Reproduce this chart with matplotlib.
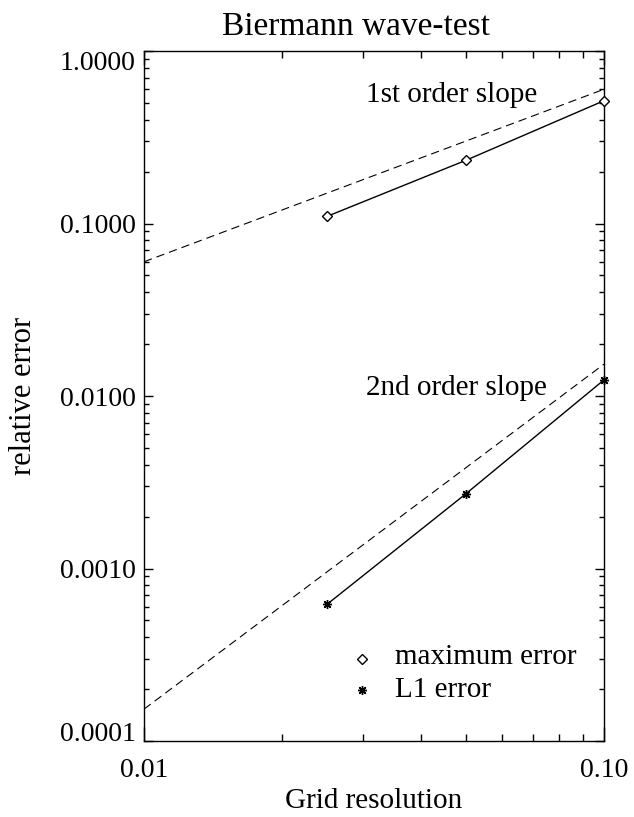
import matplotlib
matplotlib.use("Agg")
import matplotlib.pyplot as plt
from matplotlib.ticker import FixedLocator, LogLocator, NullFormatter, FixedFormatter
import numpy as np

plt.rcParams["font.family"] = ["Liberation Serif", "DejaVu Serif"]

# grid resolutions and measured relative errors
resolution = [0.025, 0.05, 0.1]
max_error = [0.110, 0.232, 0.515]
l1_error = [6.2e-4, 2.70e-3, 1.24e-2]

# reference slopes (error = c * h**order) drawn across the full axis range
ref_h = [0.01, 0.1]
first_order_coef = 6.0
second_order_coef = 1.53

x_ticks = [0.01, 0.1]
x_tick_labels = ["0.01", "0.10"]
y_ticks = [1e-4, 1e-3, 1e-2, 1e-1, 1.0]
y_tick_labels = ["0.0001", "0.0010", "0.0100", "0.1000", "1.0000"]

W, H = 634, 817
fig = plt.figure(figsize=(W / 100, H / 100), dpi=100)
ax = fig.add_axes([144 / W, 1 - 741 / H, 460 / W, 690 / H])

ax.set_xscale("log")
ax.set_yscale("log")
ax.set_xlim(0.01, 0.1)
ax.set_ylim(1e-4, 1.0)

dash = (0, (7.5, 4.5))
ref_h_arr = np.array(ref_h)
ax.plot(ref_h_arr, first_order_coef * ref_h_arr, color="black", lw=0.8,
        linestyle=dash)
ax.plot(ref_h_arr, second_order_coef * ref_h_arr ** 2, color="black", lw=0.8,
        linestyle=dash)

diamond = dict(marker="D", markersize=4.8, markerfacecolor="white",
               markeredgecolor="black", markeredgewidth=1.0)
asterisk = dict(marker=(8, 2, 0), markersize=6.5, markeredgecolor="black",
                markeredgewidth=1.0)

ax.plot(resolution, max_error, color="black", lw=1.0, clip_on=False,
        zorder=3, **diamond)
ax.plot(resolution, l1_error, color="black", lw=1.0, clip_on=False,
        zorder=3, **asterisk)

# ticks drawn inside on all four sides
ax.xaxis.set_major_locator(FixedLocator(x_ticks))
ax.xaxis.set_major_formatter(FixedFormatter(x_tick_labels))
ax.xaxis.set_minor_locator(LogLocator(base=10, subs=np.arange(2, 10)))
ax.xaxis.set_minor_formatter(NullFormatter())
ax.yaxis.set_major_locator(FixedLocator(y_ticks))
ax.yaxis.set_major_formatter(FixedFormatter(y_tick_labels))
ax.yaxis.set_minor_locator(LogLocator(base=10, subs=np.arange(2, 10)))
ax.yaxis.set_minor_formatter(NullFormatter())

ax.tick_params(axis="both", which="both", direction="in", top=True,
               right=True, color="black", width=1.0, labelsize=20)
ax.tick_params(axis="x", which="major", length=10, pad=12)
ax.tick_params(axis="x", which="minor", length=5)
ax.tick_params(axis="y", which="major", length=6.6, pad=6)
ax.tick_params(axis="y", which="minor", length=3.3)
for s in ax.spines.values():
    s.set_linewidth(1.0)

# keep the end labels of the y axis inside the frame height
fig.canvas.draw()
ylabels = ax.get_yticklabels()
for lab in ylabels:
    lab.set_va("center_baseline")
ylabels[0].set_va("baseline")
ylabels[-1].set_va("top")

ax.text(0.483, 0.9254, "1st order slope", transform=ax.transAxes,
        ha="left", va="baseline", fontsize=21)
ax.text(0.483, 0.5014, "2nd order slope", transform=ax.transAxes,
        ha="left", va="baseline", fontsize=21)

# legend keys
ax.plot([0.4746], [0.1184], transform=ax.transAxes, ls="none", **diamond)
ax.plot([0.4746], [0.0739], transform=ax.transAxes, ls="none", **asterisk)
ax.text(0.5457, 0.1116, "maximum error", transform=ax.transAxes,
        ha="left", va="baseline", fontsize=21)
ax.text(0.5457, 0.0638, "L1 error", transform=ax.transAxes,
        ha="left", va="baseline", fontsize=21)

fig.text(356 / W, 1 - 35 / H, "Biermann wave-test", ha="center",
         va="baseline", fontsize=24)
fig.text(374 / W, 1 - 801 / H, "Grid resolution", ha="center",
         va="center", fontsize=21)
fig.text(24 / W, 1 - 396 / H, "relative error", ha="center", va="center",
         rotation=90, fontsize=22)

fig.savefig("out.png", dpi=100)
